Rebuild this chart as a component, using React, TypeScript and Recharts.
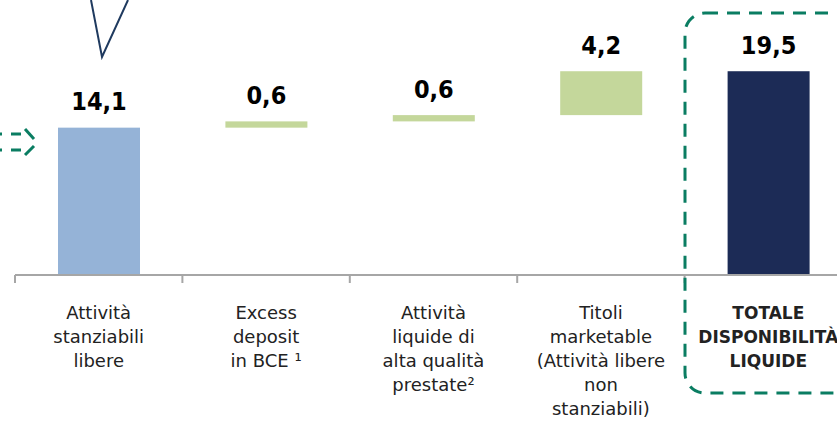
import React from 'react';
import { BarChart, Bar, XAxis, YAxis, LabelList } from 'recharts';

// waterfall: invisible base + visible step
const categories = [
    ['Attività', 'stanziabili', 'libere'],
    ['Excess', 'deposit', 'in BCE ¹'],
    ['Attività', 'liquide di', 'alta qualità', 'prestate²'],
    ['Titoli', 'marketable', '(Attività libere', 'non', 'stanziabili)'],
    ['TOTALE', 'DISPONIBILITÀ', 'LIQUIDE'],
];
const baseValues = [0, 14.1, 14.7, 15.3, 0];
const stepValues = [14.1, 0.6, 0.6, 4.2, 19.5];
const valueLabels = ['14,1', '0,6', '0,6', '4,2', '19,5'];
const barColors = ['#95b3d7', '#c4d79b', '#c4d79b', '#c4d79b', '#1c2b56'];

const data = categories.map((lines, i) => ({
    name: lines.join(' '),
    lines,
    base: baseValues[i],
    step: stepValues[i],
    label: valueLabels[i],
    color: barColors[i],
}));

const CHART_W = 860;
const CHART_H = 426;
const AXIS_H = 151;
const MARGIN = { top: 66, right: 8, left: 15, bottom: 0 };
const HALF_BAND = (CHART_W - MARGIN.left - MARGIN.right) / categories.length / 2;

const FONT = '"DejaVu Sans", "Noto Sans", sans-serif';
const NUM_FONT = '"DejaVu Sans Condensed", "DejaVu Sans", sans-serif';

function CategoryTick(props: any) {
    const { x, index } = props;
    const item = data[index];
    const last = index === categories.length - 1;
    const axisY = CHART_H - AXIS_H;
    return (
        <g>
            <line x1={x - HALF_BAND} x2={x - HALF_BAND} y1={axisY} y2={axisY + 8} stroke="#a6a6a6" strokeWidth={2} />
            {last && (
                <line x1={x + HALF_BAND} x2={x + HALF_BAND} y1={axisY} y2={axisY + 8} stroke="#a6a6a6" strokeWidth={2} />
            )}
            <text
                x={x}
                y={axisY}
                textAnchor="middle"
                fontFamily={FONT}
                fontSize={last ? 17 : 18}
                fontWeight={last ? 700 : 400}
                fill="#222"
            >
                {item.lines.map((l: string, k: number) => (
                    <tspan key={k} x={x} dy={k === 0 ? 44 : 24}>
                        {l}
                    </tspan>
                ))}
            </text>
        </g>
    );
}

function ValueLabel(props: any) {
    const { x, y, width, index } = props;
    return (
        <text
            x={x + width / 2}
            y={y - 26}
            textAnchor="middle"
            dominantBaseline="central"
            fontFamily={NUM_FONT}
            fontSize={25}
            fontWeight={700}
            fill="#000"
        >
            {data[index].label}
        </text>
    );
}

function Decorations() {
    const green = '#0a7d62';
    return (
        <svg
            width={837}
            height={426}
            style={{ position: 'absolute', left: 0, top: 0, pointerEvents: 'none' }}
        >
            {/* callout tip */}
            <polyline points="91,0 102,57 128,0" fill="none" stroke="#1f3a5f" strokeWidth={2} />
            {/* dashed arrow */}
            <g stroke={green} strokeWidth={3} fill="none">
                <line x1={-8} y1={134} x2={22} y2={134} strokeDasharray="10 9" />
                <line x1={-8} y1={150} x2={22} y2={150} strokeDasharray="10 9" />
                <line x1={25} y1={129} x2={34} y2={139} />
                <line x1={25} y1={155} x2={34} y2={146} />
            </g>
            {/* highlight box around total */}
            <rect
                x={685}
                y={13}
                width={200}
                height={380}
                rx={20}
                ry={20}
                fill="none"
                stroke={green}
                strokeWidth={3}
                strokeDasharray="13 9"
            />
        </svg>
    );
}

export default function App() {
    return (
        <div
            style={{
                position: 'absolute',
                left: 0,
                top: 0,
                width: 837,
                height: 426,
                overflow: 'hidden',
                background: '#fff',
            }}
        >
            <BarChart width={CHART_W} height={CHART_H} data={data} margin={MARGIN} barCategoryGap={0}>
                <XAxis
                    dataKey="name"
                    interval={0}
                    tickLine={false}
                    axisLine={{ stroke: '#a6a6a6', strokeWidth: 2 }}
                    tick={<CategoryTick />}
                    height={AXIS_H}
                />
                <YAxis hide domain={[0, 20]} />
                <Bar dataKey="base" stackId="w" fill="transparent" isAnimationActive={false} barSize={82} />
                <Bar dataKey="step" stackId="w" isAnimationActive={false} barSize={82}
                    shape={(p: any) => (
                        <rect x={p.x} y={p.y} width={p.width} height={p.height} fill={p.payload.color} />
                    )}
                >
                    <LabelList dataKey="label" content={<ValueLabel />} />
                </Bar>
            </BarChart>
            <Decorations />
        </div>
    );
}
